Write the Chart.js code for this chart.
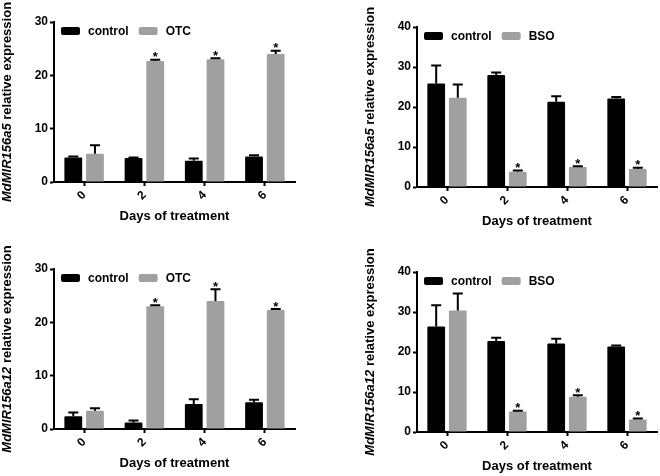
<!DOCTYPE html>
<html>
<head>
<meta charset="utf-8">
<script src="https://cdn.jsdelivr.net/npm/chart.js@4/dist/chart.umd.min.js"></script>
<style>
  html, body { margin: 0; padding: 0; background: #fff; }
  #grid { position: relative; width: 660px; height: 476px; }
  .cell { position: absolute; width: 330px; height: 238px; }
  canvas { display: block; }
</style>
</head>
<body>
<div id="grid">
  <div class="cell" style="left:0;top:0"><canvas id="c1" width="330" height="238"></canvas></div>
  <div class="cell" style="left:330px;top:0"><canvas id="c2" width="330" height="238"></canvas></div>
  <div class="cell" style="left:0;top:238px"><canvas id="c3" width="330" height="238"></canvas></div>
  <div class="cell" style="left:330px;top:238px"><canvas id="c4" width="330" height="238"></canvas></div>
</div>
<script>
// Categories (days of treatment)
const days = ['0', '2', '4', '6'];

// MdMIR156a5, OTC experiment
const a5OtcControl = [4.6, 4.5, 4.0, 4.8];
const a5OtcControlErr = [0.2, 0.1, 0.4, 0.2];
const a5Otc = [5.3, 22.7, 23.0, 24.0];
const a5OtcErr = [1.6, 0.2, 0.2, 0.6];
const a5OtcStars = [false, true, true, true];

// MdMIR156a5, BSO experiment
const a5BsoControl = [25.9, 28.0, 21.3, 22.1];
const a5BsoControlErr = [4.5, 0.6, 1.4, 0.4];
const a5Bso = [22.3, 3.8, 5.0, 4.5];
const a5BsoErr = [3.3, 0.3, 0.2, 0.3];
const a5BsoStars = [false, true, true, true];

// MdMIR156a12, OTC experiment
const a12OtcControl = [2.4, 1.2, 4.7, 5.0];
const a12OtcControlErr = [0.7, 0.4, 0.9, 0.5];
const a12Otc = [3.4, 23.0, 24.0, 22.3];
const a12OtcErr = [0.5, 0.2, 2.2, 0.2];
const a12OtcStars = [false, true, true, true];

// MdMIR156a12, BSO experiment
const a12BsoControl = [26.4, 22.75, 22.1, 21.4];
const a12BsoControlErr = [5.3, 0.8, 1.2, 0.2];
const a12Bso = [30.4, 5.1, 8.8, 3.1];
const a12BsoErr = [4.2, 0.2, 0.4, 0.3];
const a12BsoStars = [false, true, true, true];

const FONT = '"Liberation Sans", Arial, sans-serif';
const GREY = '#a0a0a0';

// error bars (upper only) + significance stars
const errorBars = {
    id: 'errorBars',
    afterDatasetsDraw: (chart) => {
        const {ctx, scales} = chart;
        ctx.save();
        ctx.strokeStyle = '#000';
        ctx.lineWidth = 2;
        chart.data.datasets.forEach((ds, i) => {
            const meta = chart.getDatasetMeta(i);
            meta.data.forEach((bar, j) => {
                const top = scales.y.getPixelForValue(ds.data[j] + ds.errors[j]);
                ctx.beginPath();
                ctx.moveTo(bar.x, bar.y);
                ctx.lineTo(bar.x, top);
                ctx.moveTo(bar.x - 5, top);
                ctx.lineTo(bar.x + 5, top);
                ctx.stroke();
                if (ds.stars && ds.stars[j]) {
                    ctx.fillStyle = '#000';
                    ctx.font = 'bold 13px ' + FONT;
                    ctx.textAlign = 'center';
                    ctx.textBaseline = 'alphabetic';
                    ctx.fillText('*', bar.x, top + 1.5);
                }
            });
        });
        ctx.restore();
    }
};

// legend drawn inside the plot area
const insideLegend = {
    id: 'insideLegend',
    afterDraw: (chart) => {
        const {ctx, chartArea} = chart;
        let x = chartArea.left + 7;
        const y = chartArea.top + 5;
        ctx.save();
        ctx.font = 'bold 12px ' + FONT;
        ctx.textBaseline = 'middle';
        ctx.textAlign = 'left';
        chart.data.datasets.forEach(ds => {
            ctx.fillStyle = ds.backgroundColor;
            ctx.beginPath();
            ctx.roundRect(x, y, 19, 8, 2);
            ctx.fill();
            x += 19 + 8;
            ctx.fillStyle = '#000';
            ctx.fillText(ds.label, x, y + 4.5);
            x += ctx.measureText(ds.label).width + 10;
        });
        ctx.restore();
    }
};

// axis titles (y title mixes italic gene name and plain text)
const axisTitles = {
    id: 'axisTitles',
    afterDraw: (chart, args, options) => {
        const {ctx, chartArea} = chart;
        ctx.save();
        ctx.fillStyle = '#000';
        ctx.textBaseline = 'middle';
        ctx.textAlign = 'center';
        ctx.font = 'bold 13px ' + FONT;
        ctx.fillText('Days of treatment', (chartArea.left + chartArea.right) / 2, chartArea.bottom + 34);

        const italicFont = 'italic bold 13px ' + FONT;
        const plainFont = 'bold 13px ' + FONT;
        const rest = ' relative expression';
        ctx.font = italicFont;
        const w1 = ctx.measureText(options.gene).width;
        ctx.font = plainFont;
        const w2 = ctx.measureText(rest).width;
        ctx.translate(chartArea.left - 47, (chartArea.top + chartArea.bottom) / 2);
        ctx.rotate(-Math.PI / 2);
        ctx.textAlign = 'left';
        ctx.font = italicFont;
        ctx.fillText(options.gene, -(w1 + w2) / 2, 0);
        ctx.font = plainFont;
        ctx.fillText(rest, -(w1 + w2) / 2 + w1, 0);
        ctx.restore();
    }
};

const makePanel = (id, gene, treatment, yMax, ctrl, ctrlErr, trt, trtErr, stars, area) => {
    const ctx = document.getElementById(id).getContext('2d');
    return new Chart(ctx, {
        type: 'bar',
        data: {
            labels: days,
            datasets: [{
                label: 'control',
                data: ctrl,
                errors: ctrlErr,
                backgroundColor: '#000',
                borderWidth: 0,
                borderRadius: 1,
                categoryPercentage: 0.72,
                barPercentage: 0.82
            }, {
                label: treatment,
                data: trt,
                errors: trtErr,
                stars: stars,
                backgroundColor: GREY,
                borderWidth: 0,
                borderRadius: 1,
                categoryPercentage: 0.72,
                barPercentage: 0.82
            }]
        },
        options: {
            responsive: false,
            animation: false,
            devicePixelRatio: 1,
            layout: {
                padding: {left: 0, top: area.top, right: 330 - area.right, bottom: 0}
            },
            plugins: {
                legend: {display: false},
                tooltip: {enabled: false},
                axisTitles: {gene: gene}
            },
            scales: {
                x: {
                    grid: {
                        offset: false,
                        drawOnChartArea: false,
                        drawTicks: true,
                        tickLength: 4,
                        tickWidth: 2,
                        color: '#000'
                    },
                    border: {display: true, color: '#000', width: 2},
                    ticks: {
                        color: '#000',
                        font: {family: FONT, size: 12, weight: 'bold'},
                        minRotation: 45,
                        maxRotation: 45,
                        padding: 2
                    },
                    afterFit: (scale) => { scale.height = 238 - area.bottom; }
                },
                y: {
                    min: 0,
                    max: yMax,
                    grid: {
                        drawOnChartArea: false,
                        drawTicks: true,
                        tickLength: 4,
                        tickWidth: 2,
                        color: '#000'
                    },
                    border: {display: true, color: '#000', width: 2},
                    ticks: {
                        stepSize: 10,
                        color: '#000',
                        font: {family: FONT, size: 12, weight: 'bold'},
                        padding: 2
                    },
                    afterFit: (scale) => { scale.width = area.left; }
                }
            }
        },
        plugins: [errorBars, insideLegend, axisTitles]
    });
};

makePanel('c1', 'MdMIR156a5', 'OTC', 30, a5OtcControl, a5OtcControlErr, a5Otc, a5OtcErr, a5OtcStars,
    {left: 54, top: 22, right: 295, bottom: 182});
makePanel('c2', 'MdMIR156a5', 'BSO', 40, a5BsoControl, a5BsoControlErr, a5Bso, a5BsoErr, a5BsoStars,
    {left: 87, top: 27, right: 327, bottom: 187});
makePanel('c3', 'MdMIR156a12', 'OTC', 30, a12OtcControl, a12OtcControlErr, a12Otc, a12OtcErr, a12OtcStars,
    {left: 54, top: 31, right: 295, bottom: 191});
makePanel('c4', 'MdMIR156a12', 'BSO', 40, a12BsoControl, a12BsoControlErr, a12Bso, a12BsoErr, a12BsoStars,
    {left: 87, top: 34, right: 327, bottom: 194});
</script>
</body>
</html>
